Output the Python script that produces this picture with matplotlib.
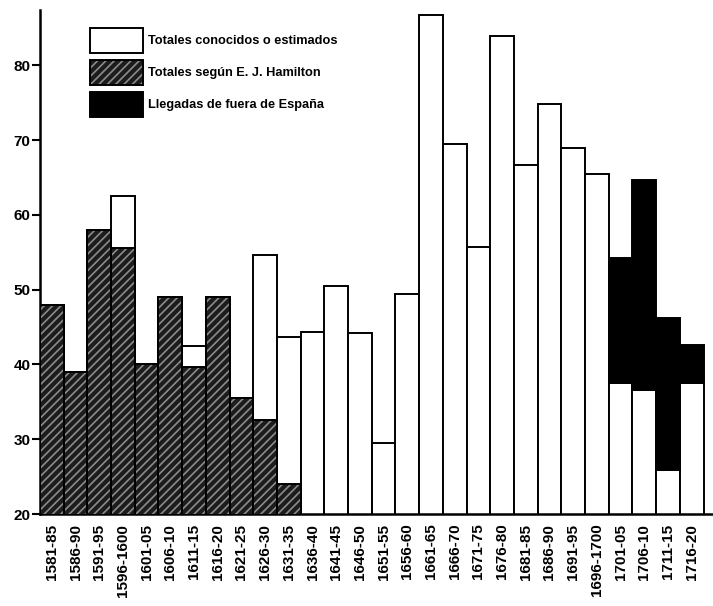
import matplotlib
matplotlib.use("Agg")
import matplotlib.pyplot as plt
from matplotlib.patches import Patch
from matplotlib.legend_handler import HandlerTuple

periods = ["1581-85", "1586-90", "1591-95", "1596-1600", "1601-05", "1606-10",
           "1611-15", "1616-20", "1621-25", "1626-30", "1631-35", "1636-40",
           "1641-45", "1646-50", "1651-55", "1656-60", "1661-65", "1666-70",
           "1671-75", "1676-80", "1681-85", "1686-90", "1691-95", "1696-1700",
           "1701-05", "1706-10", "1711-15", "1716-20"]

# Totales conocidos o estimados (for the last four: part without foreign arrivals)
totales = [48, 39, 58, 62.5, 40, 49, 42.5, 49, 35.5, 54.6, 43.7, 44.3,
           50.5, 44.2, 29.5, 49.4, 86.7, 69.5, 55.7, 83.9, 66.7, 74.8,
           68.9, 65.5, 37.5, 36.6, 25.9, 37.5]
# Totales según E. J. Hamilton (first 11 periods)
hamilton = [48, 39, 58, 55.6, 40, 49, 39.7, 49, 35.5, 32.6, 24]
# Totals including arrivals from outside Spain (last 4 periods)
con_llegadas = [54.2, 64.6, 46.2, 42.6]

plt.rcParams['font.family'] = ['Liberation Sans', 'DejaVu Sans']
plt.rcParams['hatch.linewidth'] = 1.2

fig = plt.figure(figsize=(7.13, 6.06), dpi=100)
ax = fig.add_axes([40/713, 1-514/606, 1-40/713, (514-10)/606])

x = list(range(len(periods)))
lw = 1.4
hfill = '#1c1c1c'
hcol = '#8c8c8c'

ax.bar(x, totales, width=1.0, bottom=0, color='white', edgecolor='black',
       linewidth=lw, zorder=2)

xh = x[:len(hamilton)]
ax.bar(xh, hamilton, width=1.0, color=hfill, edgecolor=hcol,
       hatch='////', linewidth=0, zorder=3)
ax.bar(xh, hamilton, width=1.0, fill=False, edgecolor='black',
       linewidth=lw, zorder=4)

xl = x[-len(con_llegadas):]
base = totales[-len(con_llegadas):]
heights = [t - b for t, b in zip(con_llegadas, base)]
ax.bar(xl, heights, bottom=base, width=1.0, color='black', edgecolor='black',
       linewidth=lw, zorder=3)

ax.set_xlim(-0.5, 27.9)
ax.set_ylim(20, 87.4)
ax.set_yticks([20, 30, 40, 50, 60, 70, 80])
ax.set_xticks(x)
ax.set_xticklabels(periods, rotation=90, fontsize=11, fontweight='bold')
ax.tick_params(axis='x', length=0, pad=7)
ax.tick_params(axis='y', length=6, width=1.5, labelsize=11, pad=1)
for lab in ax.get_yticklabels():
    lab.set_fontweight('bold')
ax.spines['top'].set_visible(False)
ax.spines['right'].set_visible(False)
ax.spines['left'].set_linewidth(1.8)
ax.spines['bottom'].set_linewidth(1.8)

h_white = Patch(facecolor='white', edgecolor='black', linewidth=lw)
h_hatch_fill = Patch(facecolor=hfill, edgecolor=hcol, hatch='////', linewidth=0)
h_hatch_edge = Patch(fill=False, edgecolor='black', linewidth=lw)
h_black = Patch(facecolor='black', edgecolor='black', linewidth=lw)
leg = fig.legend([h_white, (h_hatch_fill, h_hatch_edge), h_black],
                 ["Totales conocidos o estimados", "Totales según E. J. Hamilton",
                  "Llegadas de fuera de España"],
                 handler_map={tuple: HandlerTuple(ndivide=1, pad=0)},
                 loc='upper left', bbox_to_anchor=(90/713, 1-28/606),
                 bbox_transform=fig.transFigure, frameon=False,
                 borderpad=0, borderaxespad=0, handlelength=4.15, handleheight=2.63,
                 handletextpad=0.35, labelspacing=0.55,
                 prop={'size': 9.2, 'weight': 'bold'})

fig.savefig("out.png", dpi=100)
